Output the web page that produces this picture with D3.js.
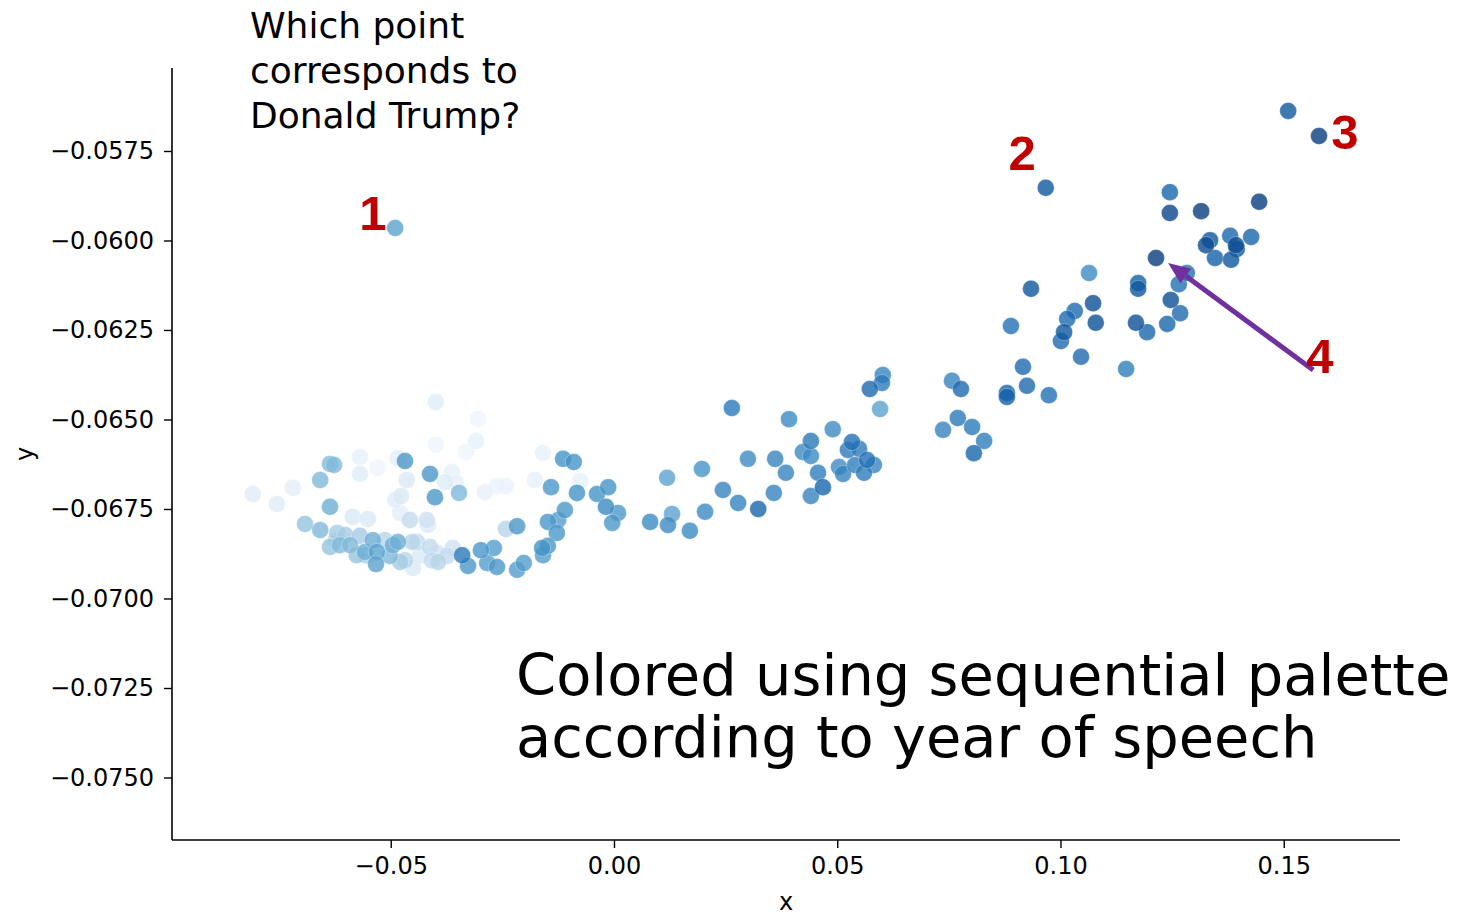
<!DOCTYPE html>
<meta charset="utf-8">
<html>
<style>
body { margin: 0; background: #fff; }
.axis text { font: 24px "DejaVu Sans", sans-serif; fill: #000; }
.axis path, .axis line { stroke: #000; }
.note { font-family: "DejaVu Sans", sans-serif; font-weight: normal; fill: #000; }
.num { font: bold 49px "Liberation Sans", Arial, sans-serif; fill: #c00000; text-anchor: middle; }
</style>
<svg width="1458" height="917"></svg>
<script src="https://d3js.org/d3.v7.min.js"></script>
<script>
// each point: [x, y, year of speech]
var earlyCluster = [
  [-0.0809,-0.06708,1817],[-0.0755,-0.06736,1817],[-0.0719,-0.06691,1813],[-0.0692,-0.06792,1881],
  [-0.0658,-0.06669,1893],[-0.0658,-0.06809,1893],[-0.0636,-0.06624,1893],[-0.0627,-0.06627,1893],
  [-0.0636,-0.06744,1904],[-0.0569,-0.06605,1808],[-0.0569,-0.06652,1817],[-0.0585,-0.06772,1824],
  [-0.0551,-0.06778,1824],[-0.0529,-0.06635,1801],[-0.0484,-0.06608,1813],[-0.0468,-0.06616,1927],
  [-0.0464,-0.06669,1824],[-0.0477,-0.06714,1824],[-0.0479,-0.06761,1813],[-0.0457,-0.06781,1847],
  [-0.0419,-0.06781,1836],[-0.0417,-0.06795,1824],[-0.0412,-0.06652,1927],[-0.0401,-0.06717,1927],
  [-0.0399,-0.06451,1817],[-0.0399,-0.06571,1801],[-0.0305,-0.06499,1801],[-0.0309,-0.06560,1808],
  [-0.0331,-0.06591,1801],[-0.0363,-0.06647,1808],[-0.0378,-0.06675,1817],[-0.0354,-0.06677,1808],
  [-0.0347,-0.06705,1893],[-0.0289,-0.06703,1808],[-0.0262,-0.06686,1804],[-0.0242,-0.06686,1804],
  [-0.0177,-0.06669,1808],[-0.0159,-0.06594,1808],[-0.0114,-0.06610,1931],[-0.0090,-0.06619,1931],
  [-0.0076,-0.06672,1808],[-0.0141,-0.06689,1927],[-0.0083,-0.06705,1931],[-0.0038,-0.06708,1931],
  [-0.0013,-0.06689,1931],[-0.0018,-0.06744,1938],[0.0009,-0.06761,1927],[-0.0004,-0.06789,1927],
  [-0.0217,-0.06798,1927],[-0.0242,-0.06806,1858],[-0.0148,-0.06786,1927],[-0.0110,-0.06753,1927],
  [-0.0125,-0.06781,1922],[-0.0128,-0.06817,1927],[-0.0161,-0.06859,1931],[-0.0148,-0.06853,1927],
  [-0.0159,-0.06879,1922],[-0.0490,-0.05965,1915]
];

var lowerArc = [
  [-0.0636,-0.06856,1881],[-0.0614,-0.06851,1893],[-0.0591,-0.06851,1893],[-0.0576,-0.06879,1881],
  [-0.0558,-0.06870,1904],[-0.0540,-0.06837,1904],[-0.0531,-0.06870,1915],[-0.0533,-0.06904,1915],
  [-0.0502,-0.06881,1893],[-0.0495,-0.06851,1904],[-0.0484,-0.06842,1904],[-0.0479,-0.06898,1870],
  [-0.0468,-0.06893,1858],[-0.0450,-0.06915,1824],[-0.0452,-0.06842,1858],[-0.0441,-0.06842,1847],
  [-0.0412,-0.06856,1847],[-0.0408,-0.06893,1847],[-0.0394,-0.06898,1858],[-0.0396,-0.06873,1836],
  [-0.0374,-0.06881,1847],[-0.0361,-0.06859,1836],[-0.0340,-0.06879,1954],[-0.0327,-0.06909,1927],
  [-0.0298,-0.06865,1927],[-0.0284,-0.06901,1922],[-0.0269,-0.06859,1922],[-0.0262,-0.06912,1927],
  [-0.0217,-0.06920,1922],[-0.0202,-0.06901,1922],[-0.0620,-0.06817,1870],[-0.0602,-0.06823,1870],
  [-0.0623,-0.06837,1858],[-0.0569,-0.06825,1870],[-0.0513,-0.06837,1858],[-0.0434,-0.06879,1824],
  [-0.0490,-0.06725,1817],[-0.0555,-0.06879,1870]
];

var middleBand = [
  [0.0081,-0.06786,1938],[0.0121,-0.06795,1938],[0.0130,-0.06764,1915],[0.0119,-0.06663,1915],
  [0.0170,-0.06811,1938],[0.0204,-0.06758,1938],[0.0197,-0.06638,1931],[0.0244,-0.06697,1945],
  [0.0278,-0.06733,1945],[0.0323,-0.06750,1972],[0.0300,-0.06610,1938],[0.0361,-0.06610,1945],
  [0.0385,-0.06649,1945],[0.0358,-0.06705,1945],[0.0264,-0.06468,1954],[0.0392,-0.06499,1938],
  [0.0441,-0.06560,1954],[0.0423,-0.06591,1938],[0.0441,-0.06602,1938],[0.0457,-0.06649,1950],
  [0.0468,-0.06689,1972],[0.0441,-0.06714,1945],[0.0490,-0.06527,1938],[0.0533,-0.06563,1961],
  [0.0524,-0.06585,1954],[0.0549,-0.06582,1954],[0.0540,-0.06627,1950],[0.0567,-0.06613,1961],
  [0.0582,-0.06627,1945],[0.0560,-0.06649,1950],[0.0504,-0.06633,1938],[0.0513,-0.06652,1945],
  [0.0602,-0.06376,1945],[0.0600,-0.06398,1954],[0.0573,-0.06415,1968],[0.0596,-0.06471,1915],
  [0.0770,-0.06496,1954],[0.0737,-0.06529,1945],[0.0802,-0.06521,1954],[0.0829,-0.06560,1950],
  [0.0806,-0.06594,1972]
];

var upperRight = [
  [0.0757,-0.06392,1945],[0.0777,-0.06415,1968],[0.0880,-0.06426,1972],[0.0880,-0.06437,1977],
  [0.0974,-0.06432,1961],[0.0916,-0.06353,1968],[0.0925,-0.06406,1968],[0.0889,-0.06239,1961],
  [0.0934,-0.06135,1984],[0.0967,-0.05853,1984],[0.1064,-0.06091,1938],[0.1073,-0.06175,1991],
  [0.1079,-0.06230,1991],[0.1032,-0.06197,1968],[0.1015,-0.06219,1968],[0.1008,-0.06256,1984],
  [0.1001,-0.06281,1968],[0.1046,-0.06325,1968],[0.1147,-0.06359,1950],[0.1169,-0.06230,1991],
  [0.1194,-0.06256,1972],[0.1174,-0.06119,1977],[0.1174,-0.06135,1984],[0.1239,-0.06233,1972],
  [0.1247,-0.06166,1991],[0.1268,-0.06203,1968],[0.1265,-0.06122,1961],[0.1283,-0.06091,1961],
  [0.1214,-0.06049,2007],[0.1245,-0.05865,1972],[0.1245,-0.05923,2000],[0.1315,-0.05918,2007],
  [0.1445,-0.05892,2007],[0.1335,-0.05999,1984],[0.1326,-0.06013,1995],[0.1380,-0.05987,1972],
  [0.1393,-0.06013,1995],[0.1395,-0.06024,1984],[0.1427,-0.05990,1972],[0.1346,-0.06049,1977],
  [0.1382,-0.06054,1984],[0.1510,-0.05638,1984],[0.1579,-0.05708,2007]
];

var xTicks = [-0.05, 0.00, 0.05, 0.10, 0.15];
var yTicks = [-0.0575, -0.0600, -0.0625, -0.0650, -0.0675, -0.0700, -0.0725, -0.0750];

// candidate labels and the arrow (data coords)
var candLabels = ["1", "2", "3", "4"];
var candX = [-0.0540, 0.0914, 0.1637, 0.1581];
var candY = [-0.05971, -0.05803, -0.05744, -0.06370];
var arrowFrom = [0.1566, -0.06362];
var arrowTo = [0.1241, -0.06063];

var questionLines = ["Which point", "corresponds to", "Donald Trump?"];
var noteLines = ["Colored using sequential palette", "according to year of speech"];

var svg = d3.select("svg");
var margin = {left: 172, right: 58, top: 68, bottom: 77};
var W = 1458, H = 917;

var x = d3.scaleLinear().domain([-0.09899, 0.17604]).range([margin.left, W - margin.right]);
var y = d3.scaleLinear().domain([-0.076746, -0.055182]).range([H - margin.bottom, margin.top]);
var color = d3.scaleSequential(d3.interpolateBlues).domain([1790, 2018]);

var points = earlyCluster.concat(lowerArc, middleBand, upperRight)
  .slice().sort((a, b) => a[2] - b[2]);

svg.append("g")
  .selectAll("circle")
  .data(points)
  .join("circle")
    .attr("cx", d => x(d[0]))
    .attr("cy", d => y(d[1]))
    .attr("r", 8.5)
    .attr("fill", d => color(d[2]))
    .attr("fill-opacity", 0.8)
    .attr("stroke", "#fff")
    .attr("stroke-opacity", 0.5)
    .attr("stroke-width", 0.6);

var xAxis = svg.append("g")
  .attr("class", "axis")
  .attr("transform", "translate(0," + (H - margin.bottom) + ")")
  .call(d3.axisBottom(x).tickValues(xTicks).tickFormat(d3.format(".2f")).tickSizeOuter(0).tickSize(8).tickPadding(9));
var yAxis = svg.append("g")
  .attr("class", "axis")
  .attr("transform", "translate(" + margin.left + ",0)")
  .call(d3.axisLeft(y).tickValues(yTicks).tickFormat(d3.format(".4f")).tickSizeOuter(0).tickSize(8).tickPadding(10));
svg.selectAll(".axis .domain").attr("stroke-width", 1.6);
svg.selectAll(".axis .tick line").attr("stroke-width", 1.4);
xAxis.select(".domain").attr("d", "M" + margin.left + ",0H" + (W - margin.right));
yAxis.select(".domain").attr("d", "M0," + margin.top + "V" + (H - margin.bottom));

svg.append("text")
  .attr("x", (margin.left + W - margin.right) / 2).attr("y", 910)
  .attr("text-anchor", "middle")
  .style("font", "24px 'DejaVu Sans', sans-serif")
  .text("x");
svg.append("text")
  .attr("transform", "translate(33," + ((margin.top + H - margin.bottom) / 2) + ") rotate(-90)")
  .attr("text-anchor", "middle")
  .style("font", "24px 'DejaVu Sans', sans-serif")
  .text("y");

// arrow
var ax0 = x(arrowFrom[0]), ay0 = y(arrowFrom[1]), ax1 = x(arrowTo[0]), ay1 = y(arrowTo[1]);
var ang = Math.atan2(ay1 - ay0, ax1 - ax0), hl = 22, hw = 9;
var bx = ax1 - hl * Math.cos(ang), by = ay1 - hl * Math.sin(ang);
svg.append("line")
  .attr("x1", ax0).attr("y1", ay0).attr("x2", bx).attr("y2", by)
  .attr("stroke", "#7030a0").attr("stroke-width", 5);
svg.append("path")
  .attr("d", "M" + ax1 + "," + ay1 +
    "L" + (bx + hw * Math.sin(ang)) + "," + (by - hw * Math.cos(ang)) +
    "L" + (bx - hw * Math.sin(ang)) + "," + (by + hw * Math.cos(ang)) + "Z")
  .attr("fill", "#7030a0");

svg.append("g")
  .selectAll("text")
  .data(candLabels)
  .join("text")
    .attr("class", "num")
    .attr("x", (d, i) => x(candX[i]))
    .attr("y", (d, i) => y(candY[i]))
    .text(d => d);

svg.append("g")
  .selectAll("text")
  .data(questionLines)
  .join("text")
    .attr("class", "note")
    .style("font-size", "36px")
    .attr("x", 250)
    .attr("y", (d, i) => 38 + i * 45)
    .text(d => d);

svg.append("g")
  .selectAll("text")
  .data(noteLines)
  .join("text")
    .attr("class", "note")
    .style("font-size", "57.5px")
    .attr("x", 516)
    .attr("y", (d, i) => 695 + i * 62)
    .text(d => d);
</script>
</html>
